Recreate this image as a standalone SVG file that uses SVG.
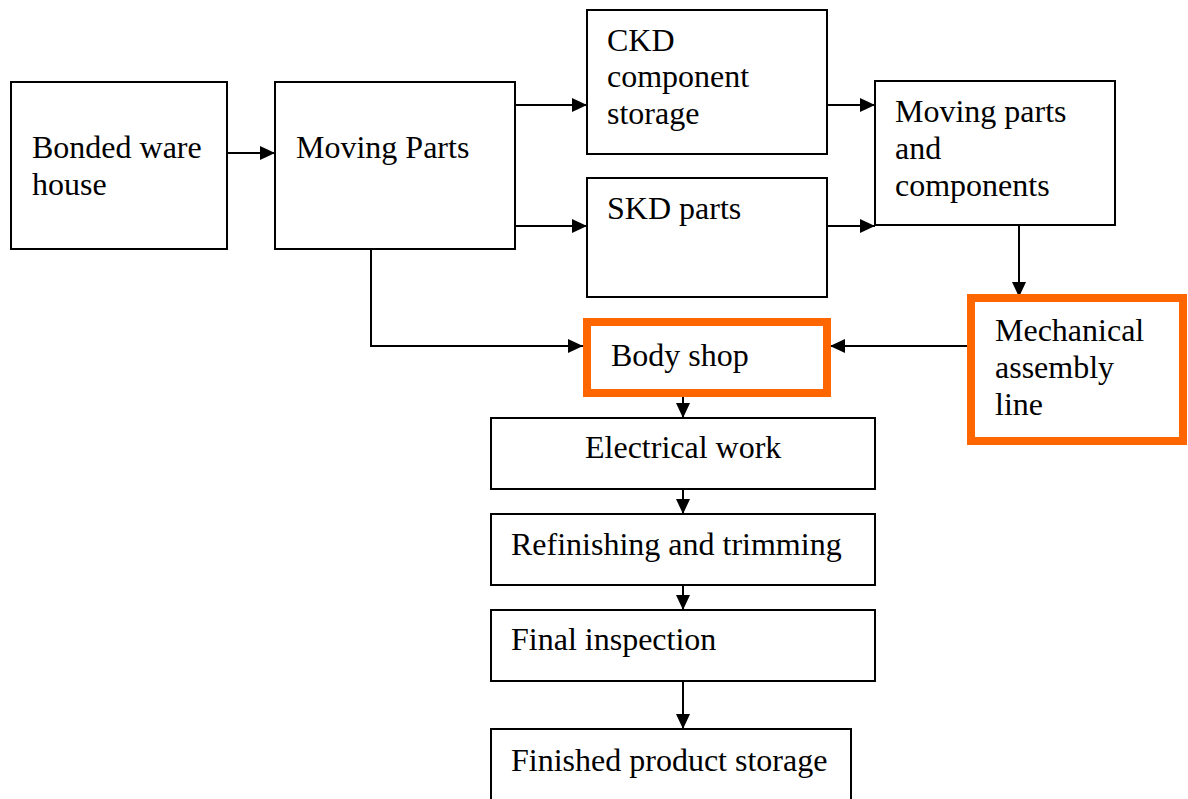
<svg xmlns="http://www.w3.org/2000/svg" width="1188" height="799" viewBox="0 0 1188 799">
  <defs>
    <style>
      .box { fill: #ffffff; stroke: #000000; stroke-width: 2; }
      .hl { fill: #ffffff; stroke: #ff6600; stroke-width: 8; }
      .lbl { font-family: "Liberation Serif", "Times New Roman", serif; font-size: 32px; fill: #000000; }
      .conn { fill: none; stroke: #000000; stroke-width: 2; }
      .arr { marker-end: url(#head); }
    </style>
    <marker id="head" markerUnits="userSpaceOnUse" markerWidth="16" markerHeight="14" refX="15" refY="7" orient="auto">
      <path d="M0,0 L15,7 L0,14 Z" fill="#000000"/>
    </marker>
  </defs>
  <rect width="1188" height="799" fill="#ffffff"/>

  <g id="connectors">
    <path class="conn arr" d="M227,153 H275"/>
    <path class="conn arr" d="M515,105 H587"/>
    <path class="conn arr" d="M515,226 H587"/>
    <path class="conn arr" d="M827,105 H875"/>
    <path class="conn arr" d="M827,226 H875"/>
    <path class="conn arr" d="M1019,225 V297"/>
    <path class="conn arr" d="M371,249 V346 H583"/>
    <path class="conn arr" d="M967,346 H830"/>
    <path class="conn arr" d="M683,397 V418"/>
    <path class="conn arr" d="M683,489 V514"/>
    <path class="conn arr" d="M683,585 V610"/>
    <path class="conn arr" d="M683,681 V729"/>
  </g>

  <g id="bonded-warehouse">
    <rect class="box" x="11" y="82" width="216" height="167"/>
    <text class="lbl" x="32" y="158">Bonded ware</text>
    <text class="lbl" x="32" y="195">house</text>
  </g>

  <g id="moving-parts">
    <rect class="box" x="275" y="82" width="240" height="167"/>
    <text class="lbl" x="296" y="158">Moving Parts</text>
  </g>

  <g id="ckd-storage">
    <rect class="box" x="587" y="10" width="240" height="144"/>
    <text class="lbl" x="607" y="51">CKD</text>
    <text class="lbl" x="607" y="87">component</text>
    <text class="lbl" x="607" y="124">storage</text>
  </g>

  <g id="skd-parts">
    <rect class="box" x="587" y="178" width="240" height="119"/>
    <text class="lbl" x="607" y="219">SKD parts</text>
  </g>

  <g id="moving-parts-components">
    <rect class="box" x="875" y="81" width="240" height="144"/>
    <text class="lbl" x="895" y="122">Moving parts</text>
    <text class="lbl" x="895" y="159">and</text>
    <text class="lbl" x="895" y="196">components</text>
  </g>

  <g id="mechanical-assembly">
    <rect class="hl" x="971" y="298" width="212" height="143"/>
    <text class="lbl" x="995" y="341">Mechanical</text>
    <text class="lbl" x="995" y="378">assembly</text>
    <text class="lbl" x="995" y="415">line</text>
  </g>

  <g id="body-shop">
    <rect class="hl" x="587" y="322" width="240" height="71"/>
    <text class="lbl" x="611" y="366">Body shop</text>
  </g>

  <g id="electrical-work">
    <rect class="box" x="491" y="418" width="384" height="71"/>
    <text class="lbl" x="585" y="458">Electrical work</text>
  </g>

  <g id="refinishing">
    <rect class="box" x="491" y="514" width="384" height="71"/>
    <text class="lbl" x="511" y="555">Refinishing and trimming</text>
  </g>

  <g id="final-inspection">
    <rect class="box" x="491" y="610" width="384" height="71"/>
    <text class="lbl" x="511" y="650">Final inspection</text>
  </g>

  <g id="finished-storage">
    <rect class="box" x="491" y="729" width="360" height="80"/>
    <text class="lbl" x="511" y="771">Finished product storage</text>
  </g>
</svg>
